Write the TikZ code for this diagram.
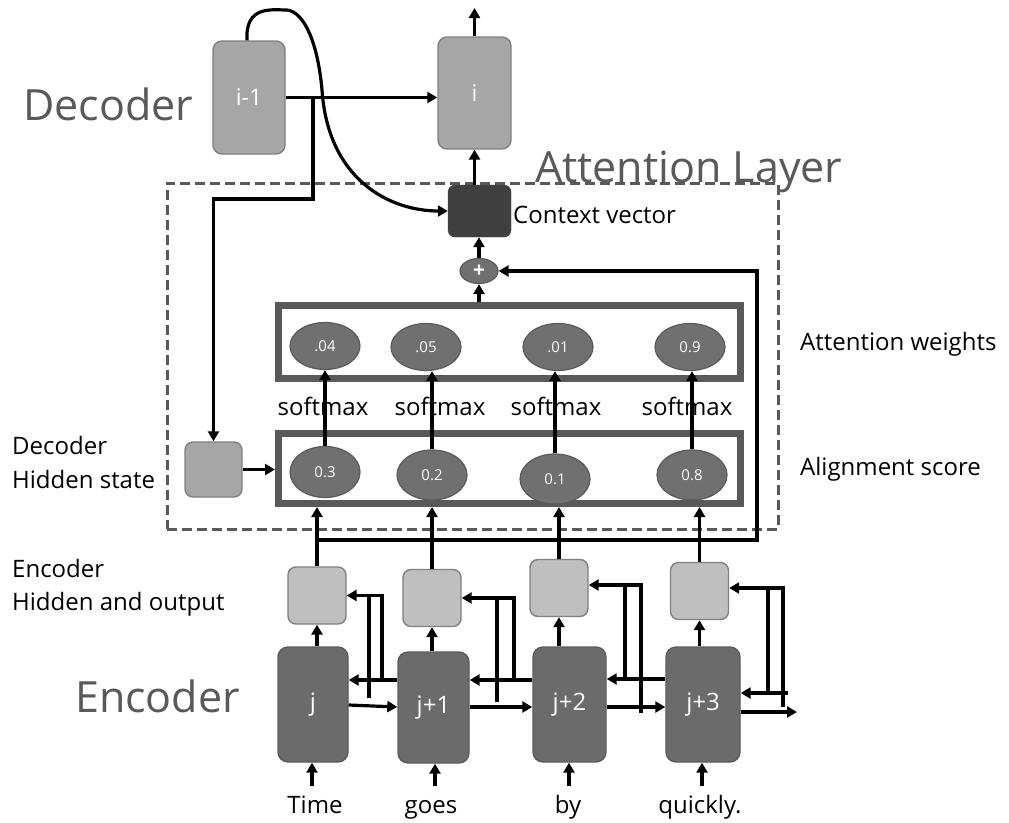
\documentclass[tikz,border=0pt]{standalone}
\usepackage{fontspec}
\setmainfont{Open Sans}
\usetikzlibrary{arrows.meta,shapes.geometric}
\definecolor{cDec}{HTML}{A6A6A6}
\definecolor{cDecB}{HTML}{808080}
\definecolor{cHid}{HTML}{BFBFBF}
\definecolor{cEnc}{HTML}{6B6B6B}
\definecolor{cEncB}{HTML}{5C5C5C}
\definecolor{cCtx}{HTML}{404040}
\definecolor{cEll}{HTML}{707070}
\definecolor{cEllB}{HTML}{5A5A5A}
\definecolor{cBord}{HTML}{595959}
\definecolor{cTxt}{HTML}{595959}
\begin{document}
\begin{tikzpicture}[x=1pt,y=-1pt,
  decbox/.style={rectangle, rounded corners=9pt, fill=cDec, draw=cDecB, line width=1.4pt, inner sep=0pt, text=white, font=\fontsize{23}{27}\selectfont},
  hidbox/.style={rectangle, rounded corners=8pt, fill=cHid, draw=cDecB, line width=1.4pt, inner sep=0pt, minimum width=58pt, minimum height=57pt},
  encbox/.style={rectangle, rounded corners=10pt, fill=cEnc, draw=cEncB, line width=1.4pt, inner sep=0pt, text=white, font=\fontsize{24}{28}\selectfont},
  ctxbox/.style={rectangle, rounded corners=7pt, fill=cCtx, draw=cCtx, inner sep=0pt},
  attb/.style={rectangle, draw=cBord, line width=7pt, inner sep=0pt},
  valell/.style={ellipse, fill=cEll, draw=cEllB, line width=1.2pt, inner sep=0pt, minimum width=70pt, text=white, font=\fontsize{15}{18}\selectfont},
  plusell/.style={ellipse, fill=cEll, draw=cEllB, line width=1.2pt, inner sep=0pt, minimum width=38pt, minimum height=25pt, text=white, font=\bfseries\fontsize{21}{22}\selectfont},
  dashbox/.style={rectangle, draw=cBord, line width=3pt, dash pattern=on 10pt off 5pt},
  big/.style={inner sep=0pt, text=cTxt, font=\fontsize{43}{50}\selectfont},
  lab/.style={inner sep=0pt, text=black, font=\fontsize{24}{28}\selectfont},
  conn/.style={line width=3.2pt, -{Triangle[length=10pt,width=11pt]}},
  plain/.style={line width=3.2pt}
]
\fill[white] (0,0) rectangle (1009,822);
\useasboundingbox (0,0) rectangle (1009,822);

% attention layer frame
\node[dashbox, minimum width=611pt, minimum height=346pt] (layer) at (472.5,356) {};

% decoder
\node[decbox, minimum width=72pt, minimum height=113pt] (im1) at (249,97.5) {i-1};
\node[decbox, minimum width=73pt, minimum height=112pt] (iN) at (474.5,93) {i};
\node[ctxbox, minimum width=63pt, minimum height=52pt] (ctx) at (479.5,211) {};
\node[plusell] (plus) at (479,271) {+};

% attention boxes
\node[attb, minimum width=462pt, minimum height=73pt] (attw) at (509.5,342) {};
\node[attb, minimum width=462pt, minimum height=70pt] (align) at (509.5,468.5) {};

\node[valell, minimum height=47pt] (w1) at (325,346) {.04};
\node[valell, minimum height=47pt] (w2) at (426,347) {.05};
\node[valell, minimum height=47pt] (w3) at (558,347) {.01};
\node[valell, minimum height=47pt] (w4) at (690,347) {0.9};

\node[valell, minimum height=51pt] (a1) at (325,472) {0.3};
\node[valell, minimum height=50pt] (a2) at (432,475) {0.2};
\node[valell, minimum height=50pt] (a3) at (555,479) {0.1};
\node[valell, minimum height=50pt] (a4) at (692,475) {0.8};

\node[decbox, rounded corners=8pt, minimum width=57pt, minimum height=55pt] (dh) at (213.5,469.5) {};

% encoder
\node[hidbox] (h0) at (317,595.5) {};
\node[hidbox] (h1) at (432,598) {};
\node[hidbox] (h2) at (559,588) {};
\node[hidbox] (h3) at (699.5,591) {};

\node[encbox, minimum width=70pt, minimum height=115pt] (e0) at (313,704.5) {j};
\node[encbox, minimum width=71pt, minimum height=111pt] (e1) at (433.5,707.5) {j+1};
\node[encbox, minimum width=73pt, minimum height=115pt] (e2) at (569.5,704.5) {j+2};
\node[encbox, minimum width=74pt, minimum height=115pt] (e3) at (703,704.5) {j+3};

% words
\node[lab, anchor=base] (t0) at (315,813) {Time};
\node[lab, anchor=base] (t1) at (431,813) {goes};
\node[lab, anchor=base] (t2) at (568,813) {by};
\node[lab, anchor=base] (t3) at (700,813) {quickly.};
\coordinate (s0) at (312,786);
\coordinate (s1) at (435,786);
\coordinate (s2) at (569,786);
\coordinate (s3) at (702,786);

% labels
\node[big, anchor=base west] (tdec) at (23,120) {Decoder};
\node[big, anchor=base west] (tatt) at (535,182) {Attention Layer};
\node[big, anchor=base west] (tenc) at (75,712) {Encoder};
\node[lab, anchor=base west] (tdh1) at (12,454) {Decoder};
\node[lab, anchor=base west] (tdh2) at (12,488) {Hidden state};
\node[lab, anchor=base west] (teh1) at (12,577) {Encoder};
\node[lab, anchor=base west] (teh2) at (12,610) {Hidden and output};
\node[lab, anchor=base west] (tctx) at (513,223) {Context vector};
\node[lab, anchor=base west] (taw) at (800,350) {Attention weights};
\node[lab, anchor=base west] (tas) at (800,475) {Alignment score};

\node[lab, anchor=base] (sm1) at (323,415) {softmax};
\node[lab, anchor=base] (sm2) at (440,415) {softmax};
\node[lab, anchor=base] (sm3) at (556,415) {softmax};
\node[lab, anchor=base] (sm4) at (687,415) {softmax};

% decoder connectors
\coordinate (top) at (474.5,8);
\coordinate (b1) at (313,199);
\draw[conn] (iN.north) -- (top);
\draw[conn] (im1.east) -- (im1.east -| iN.west);
\draw[conn] (b1 |- im1.east) -- (b1) -- (b1 -| dh.north) -- (dh.north);
\draw[conn] ([xshift=-2pt]im1.north) .. controls (245,5) and (272,10) .. (287,10)
   .. controls (305,12) and (318,45) .. (322,90)
   .. controls (328,180) and (390,211) .. (ctx.west);
\draw[conn] (iN.south |- ctx.north) -- (iN.south);
\draw[conn] (plus.north) -- (plus.north |- ctx.south);
\draw[conn] (plus.south |- attw.north) -- (plus.south);
\draw[conn] (dh.east) -- (dh.east -| align.west);

% softmax arrows
\foreach \k in {1,2,3,4}{
  \draw[conn] (a\k.north) -- (a\k.north |- w\k.south);
}

% encoder hidden to alignment + bus to plus
\coordinate (bus) at (757,540);
\foreach \k in {0,1,2,3}{
  \draw[conn] (h\k.north) -- (h\k.north |- align.south);
  \draw[conn] (h\k.south |- e\k.north) -- (h\k.south);
  \draw[conn] (s\k) -- (s\k |- e\k.south);
}
\draw[conn] (h0.north |- bus) -- (bus) -- (bus |- plus.east) -- (plus.east);

% recurrent wiring j
\draw[conn] (e1.west |- 0,680) -- (e0.east |- 0,680);
\draw[conn] (e0.east |- 0,705) -- (e1.west |- 0,707);
\draw[plain] (369,698) -- (369,595.5);
\draw[conn] (382,680) |- (h0.east);
% j+1
\draw[conn] (e2.west |- 0,680) -- (e1.east |- 0,680);
\draw[conn] (e1.east |- 0,707) -- (e2.west |- 0,707);
\draw[plain] (497,702) -- (497,598);
\draw[conn] (514,680) |- (h1.east);
% j+2
\draw[conn] (e3.west |- 0,679) -- (e2.east |- 0,679);
\draw[conn] (e2.east |- 0,707) -- (e3.west |- 0,707);
\draw[plain] (625,679) -- (625,585);
\draw[conn] (641,713) |- (h2.east |- 0,585);
% j+3
\coordinate (r1) at (788,693);
\coordinate (r2) at (797,712);
\draw[conn] (r1) -- (e3.east |- r1);
\draw[conn] (e3.east |- r2) -- (r2);
\draw[plain] (768,693) -- (768,588);
\draw[conn] (783,707) |- (h3.east |- 0,588);
\end{tikzpicture}
\end{document}
